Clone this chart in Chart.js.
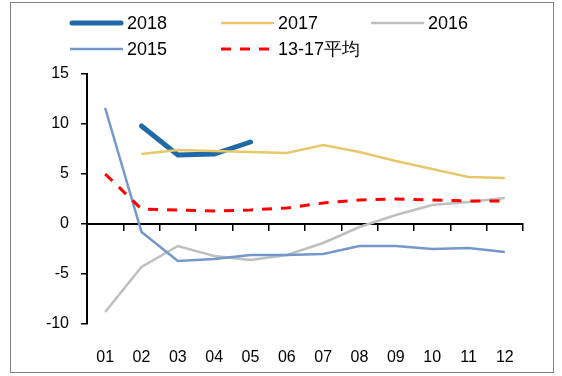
<!DOCTYPE html>
<html>
<head>
<meta charset="utf-8">
<script src="https://cdn.jsdelivr.net/npm/chart.js@4/dist/chart.umd.min.js"></script>
<style>
  body { margin: 0; background: #fff; }
  #wrap { position: relative; width: 562px; height: 376px; }
  #frame { position: absolute; left: 10px; top: 2px; width: 542px; height: 369px; border: 1px solid #808080; }
  canvas { position: absolute; left: 0; top: 0; }
</style>
</head>
<body>
<div id="wrap">
  <div id="frame"></div>
  <canvas id="chart" width="562" height="376"></canvas>
</div>
<script>
var months = ["01", "02", "03", "04", "05", "06", "07", "08", "09", "10", "11", "12"];
var y2018 = [null, 9.8, 6.9, 7.0, 8.2, null, null, null, null, null, null, null];
var y2017 = [null, 7.0, 7.4, 7.3, 7.2, 7.1, 7.9, 7.2, 6.3, 5.5, 4.7, 4.6];
var y2016 = [-8.8, -4.3, -2.2, -3.2, -3.6, -3.1, -1.9, -0.3, 0.9, 1.9, 2.2, 2.6];
var y2015 = [11.6, -0.8, -3.7, -3.5, -3.1, -3.1, -3.0, -2.2, -2.2, -2.5, -2.4, -2.8];
var avg1317 = [5.0, 1.5, 1.4, 1.3, 1.4, 1.6, 2.1, 2.4, 2.5, 2.4, 2.3, 2.3];
var seriesNames = ["2018", "2017", "2016", "2015", "13-17平均"];

var font = '"Liberation Sans", Arial, sans-serif';

// legend drawn by hand, two rows like the original
var legendRows = {
    id: 'legendRows',
    afterDraw: function(chart) {
        var ctx = chart.ctx;
        var slots = [[70, 23], [221, 23], [371, 23], [70, 49], [221, 49]];
        chart.data.datasets.forEach(function(ds, i) {
            var x = slots[i][0], y = slots[i][1];
            ctx.save();
            ctx.strokeStyle = ds.borderColor;
            ctx.lineWidth = ds.borderWidth;
            ctx.lineCap = ds.borderCapStyle || 'butt';
            ctx.setLineDash(ds.borderDash || []);
            ctx.beginPath();
            ctx.moveTo(x + (ds.borderCapStyle === 'round' ? 2 : 0), y);
            ctx.lineTo(x + 53 - (ds.borderCapStyle === 'round' ? 2 : 0), y);
            ctx.stroke();
            ctx.setLineDash([]);
            ctx.fillStyle = '#000';
            ctx.font = '18px ' + font;
            ctx.textBaseline = 'middle';
            ctx.fillText(seriesNames[i], x + 57, y + 1);
            ctx.restore();
        });
    }
};

const ctx = document.getElementById("chart").getContext("2d");
const myChart = new Chart(ctx, {
    type: "line",
    data: {
        labels: months,
        datasets: [{
            label: seriesNames[0],
            data: y2018,
            borderColor: '#1F6AA6',
            borderWidth: 5,
            borderCapStyle: 'round',
            order: 5,
        }, {
            label: seriesNames[1],
            data: y2017,
            borderColor: '#E6C76A',
            borderWidth: 2.5,
            order: 4,
        }, {
            label: seriesNames[2],
            data: y2016,
            borderColor: '#BFBFBF',
            borderWidth: 2.5,
            order: 3,
        }, {
            label: seriesNames[3],
            data: y2015,
            borderColor: '#7497CC',
            borderWidth: 2.5,
            order: 2,
        }, {
            label: seriesNames[4],
            data: avg1317,
            borderColor: '#FF0000',
            borderWidth: 3,
            borderDash: [10, 9],
            order: 1,
        }],
    },
    options: {
        responsive: false,
        animation: false,
        elements: {
            point: { radius: 0, hoverRadius: 0 },
            line: { tension: 0 },
        },
        layout: {
            padding: { left: 0, right: 39, top: 74, bottom: 0 },
        },
        plugins: {
            legend: { display: false },
            tooltip: { enabled: false },
        },
        scales: {
            x: {
                position: 'bottom',
                offset: true,
                grid: { display: false },
                border: { display: false },
                ticks: {
                    color: 'black',
                    font: { family: font, size: 16 },
                    padding: 16,
                    maxRotation: 0,
                    autoSkip: false,
                },
                afterFit: function(s) { s.height = 52; },
            },
            x2: {
                type: 'category',
                position: { y: 0 },
                offset: true,
                grid: {
                    offset: true,
                    drawOnChartArea: false,
                    tickLength: 6,
                    color: 'black',
                    lineWidth: 1.5,
                },
                border: { color: 'black', width: 2 },
                ticks: { display: false },
            },
            y: {
                min: -10,
                max: 15,
                ticks: {
                    stepSize: 5,
                    color: 'black',
                    font: { family: font, size: 16 },
                    padding: 12,
                },
                grid: {
                    drawOnChartArea: false,
                    tickLength: 6,
                    color: 'black',
                    lineWidth: 1.5,
                },
                border: { color: 'black', width: 2 },
                afterFit: function(s) { s.width = 87; },
            },
        },
    },
    plugins: [legendRows],
});
</script>
</body>
</html>
